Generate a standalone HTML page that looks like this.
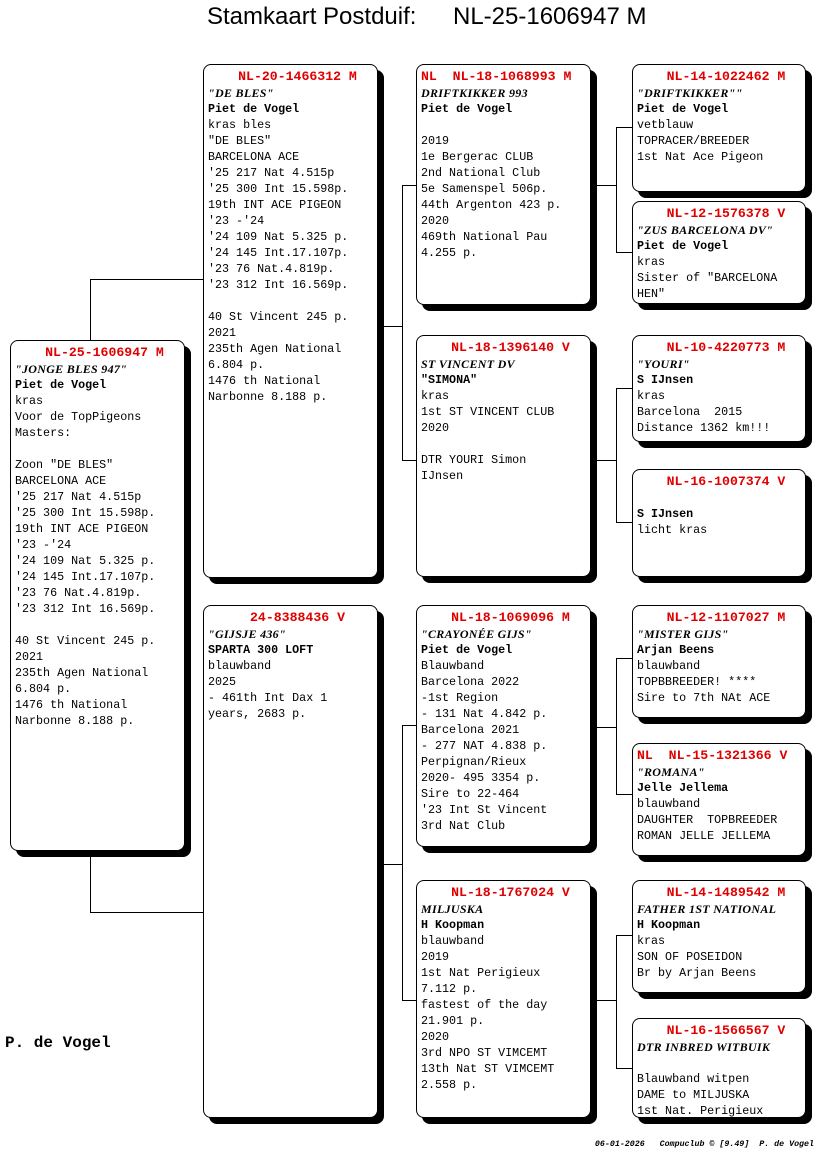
<!DOCTYPE html>
<html><head><meta charset="utf-8"><style>
body{margin:0;width:816px;height:1172px;background:#fff;position:relative;overflow:hidden;font-family:"Liberation Mono","Courier New",monospace;font-size:11.7px;color:#000}
.b{position:absolute;background:#fff;border:1px solid #000;border-radius:8px;box-shadow:6px 6px 0 #000;box-sizing:border-box;padding:4px 0 0 4px;line-height:16px;white-space:pre;overflow:hidden}
.t{color:#e00000;font-weight:bold;text-align:center;padding-left:10px;font-size:13.2px}
.t.l{text-align:left;padding-left:0}
.i{font-style:italic;font-weight:bold;font-family:"Liberation Serif","Courier New",serif;font-size:12px;letter-spacing:0.3px}
.n{font-weight:bold}
.h{position:absolute;height:1px;background:#000}
.v{position:absolute;width:1px;background:#000}
</style></head><body>
<div style="position:absolute;left:207px;top:3px;font-family:'Liberation Sans',sans-serif;font-size:24px;white-space:pre">Stamkaart Postduif:</div>
<div style="position:absolute;left:453px;top:3px;font-family:'Liberation Sans',sans-serif;font-size:24px;white-space:pre">NL-25-1606947 M</div>

<div class="h" style="left:90px;top:279px;width:113px"></div>
<div class="v" style="left:90px;top:279px;height:61px"></div>
<div class="h" style="left:90px;top:912px;width:113px"></div>
<div class="v" style="left:90px;top:852px;height:60px"></div>

<div class="h" style="left:383px;top:326px;width:19px"></div>
<div class="v" style="left:402px;top:185px;height:276px"></div>
<div class="h" style="left:402px;top:185px;width:14px"></div>
<div class="h" style="left:402px;top:460px;width:14px"></div>
<div class="h" style="left:383px;top:864px;width:19px"></div>
<div class="v" style="left:402px;top:725px;height:276px"></div>
<div class="h" style="left:402px;top:725px;width:14px"></div>
<div class="h" style="left:402px;top:1000px;width:14px"></div>

<div class="h" style="left:597px;top:185px;width:19px"></div>
<div class="v" style="left:616px;top:127px;height:126px"></div>
<div class="h" style="left:616px;top:127px;width:16px"></div>
<div class="h" style="left:616px;top:252px;width:16px"></div>
<div class="h" style="left:597px;top:460px;width:19px"></div>
<div class="v" style="left:616px;top:388px;height:135px"></div>
<div class="h" style="left:616px;top:388px;width:16px"></div>
<div class="h" style="left:616px;top:522px;width:16px"></div>
<div class="h" style="left:597px;top:727px;width:19px"></div>
<div class="v" style="left:616px;top:658px;height:137px"></div>
<div class="h" style="left:616px;top:658px;width:16px"></div>
<div class="h" style="left:616px;top:794px;width:16px"></div>
<div class="h" style="left:597px;top:1000px;width:19px"></div>
<div class="v" style="left:616px;top:935px;height:134px"></div>
<div class="h" style="left:616px;top:935px;width:16px"></div>
<div class="h" style="left:616px;top:1068px;width:16px"></div>

<div class="b" style="left:10px;top:340px;width:175px;height:511px"><div class="t">NL-25-1606947 M</div><div class="i">"JONGE BLES 947"</div><div class="n">Piet de Vogel</div>kras
Voor de TopPigeons
Masters:

Zoon "DE BLES"
BARCELONA ACE
'25 217 Nat 4.515p
'25 300 Int 15.598p.
19th INT ACE PIGEON
'23 -'24
'24 109 Nat 5.325 p.
'24 145 Int.17.107p.
'23 76 Nat.4.819p.
'23 312 Int 16.569p.

40 St Vincent 245 p.
2021
235th Agen National
6.804 p.
1476 th National
Narbonne 8.188 p.</div>

<div class="b" style="left:203px;top:64px;width:175px;height:514px"><div class="t">NL-20-1466312 M</div><div class="i">"DE BLES"</div><div class="n">Piet de Vogel</div>kras bles
"DE BLES"
BARCELONA ACE
'25 217 Nat 4.515p
'25 300 Int 15.598p.
19th INT ACE PIGEON
'23 -'24
'24 109 Nat 5.325 p.
'24 145 Int.17.107p.
'23 76 Nat.4.819p.
'23 312 Int 16.569p.

40 St Vincent 245 p.
2021
235th Agen National
6.804 p.
1476 th National
Narbonne 8.188 p.</div>
<div class="b" style="left:203px;top:605px;width:175px;height:513px"><div class="t">24-8388436 V</div><div class="i">"GIJSJE 436"</div><div class="n">SPARTA 300 LOFT</div>blauwband
2025
- 461th Int Dax 1
years, 2683 p.</div>

<div class="b" style="left:416px;top:64px;width:175px;height:241px"><div class="t l">NL  NL-18-1068993 M</div><div class="i">DRIFTKIKKER 993</div><div class="n">Piet de Vogel</div>
2019
1e Bergerac CLUB
2nd National Club
5e Samenspel 506p.
44th Argenton 423 p.
2020
469th National Pau
4.255 p.</div>
<div class="b" style="left:416px;top:335px;width:175px;height:242px"><div class="t">NL-18-1396140 V</div><div class="i">ST VINCENT DV</div><div class="n">"SIMONA"</div>kras
1st ST VINCENT CLUB
2020

DTR YOURI Simon
IJnsen</div>
<div class="b" style="left:416px;top:605px;width:175px;height:242px"><div class="t">NL-18-1069096 M</div><div class="i">"CRAYONÉE GIJS"</div><div class="n">Piet de Vogel</div>Blauwband
Barcelona 2022
-1st Region
- 131 Nat 4.842 p.
Barcelona 2021
- 277 NAT 4.838 p.
Perpignan/Rieux
2020- 495 3354 p.
Sire to 22-464
'23 Int St Vincent
3rd Nat Club</div>
<div class="b" style="left:416px;top:880px;width:175px;height:238px"><div class="t">NL-18-1767024 V</div><div class="i">MILJUSKA</div><div class="n">H Koopman</div>blauwband
2019
1st Nat Perigieux
7.112 p.
fastest of the day
21.901 p.
2020
3rd NPO ST VIMCEMT
13th Nat ST VIMCEMT
2.558 p.</div>

<div class="b" style="left:632px;top:64px;width:174px;height:128px"><div class="t">NL-14-1022462 M</div><div class="i">"DRIFTKIKKER""</div><div class="n">Piet de Vogel</div>vetblauw
TOPRACER/BREEDER
1st Nat Ace Pigeon</div>
<div class="b" style="left:632px;top:201px;width:174px;height:103px"><div class="t">NL-12-1576378 V</div><div class="i">"ZUS BARCELONA DV"</div><div class="n">Piet de Vogel</div>kras
Sister of "BARCELONA
HEN"</div>
<div class="b" style="left:632px;top:335px;width:174px;height:107px"><div class="t">NL-10-4220773 M</div><div class="i">"YOURI"</div><div class="n">S IJnsen</div>kras
Barcelona  2015
Distance 1362 km!!!</div>
<div class="b" style="left:632px;top:469px;width:174px;height:108px"><div class="t">NL-16-1007374 V</div>
<div class="n">S IJnsen</div>licht kras</div>
<div class="b" style="left:632px;top:605px;width:174px;height:113px"><div class="t">NL-12-1107027 M</div><div class="i">"MISTER GIJS"</div><div class="n">Arjan Beens</div>blauwband
TOPBBREEDER! ****
Sire to 7th NAt ACE</div>
<div class="b" style="left:632px;top:743px;width:174px;height:113px"><div class="t l">NL  NL-15-1321366 V</div><div class="i">"ROMANA"</div><div class="n">Jelle Jellema</div>blauwband
DAUGHTER  TOPBREEDER
ROMAN JELLE JELLEMA</div>
<div class="b" style="left:632px;top:880px;width:174px;height:113px"><div class="t">NL-14-1489542 M</div><div class="i">FATHER 1ST NATIONAL</div><div class="n">H Koopman</div>kras
SON OF POSEIDON
Br by Arjan Beens</div>
<div class="b" style="left:632px;top:1018px;width:174px;height:100px"><div class="t">NL-16-1566567 V</div><div class="i">DTR INBRED WITBUIK</div>
Blauwband witpen
DAME to MILJUSKA
1st Nat. Perigieux</div>

<div style="position:absolute;left:5px;top:1034px;font-weight:bold;font-size:16px">P. de Vogel</div>
<div style="position:absolute;right:2px;top:1140px;font-size:8.3px;font-style:italic;font-weight:bold;white-space:pre">06-01-2026   Compuclub © [9.49]  P. de Vogel</div>
</body></html>
